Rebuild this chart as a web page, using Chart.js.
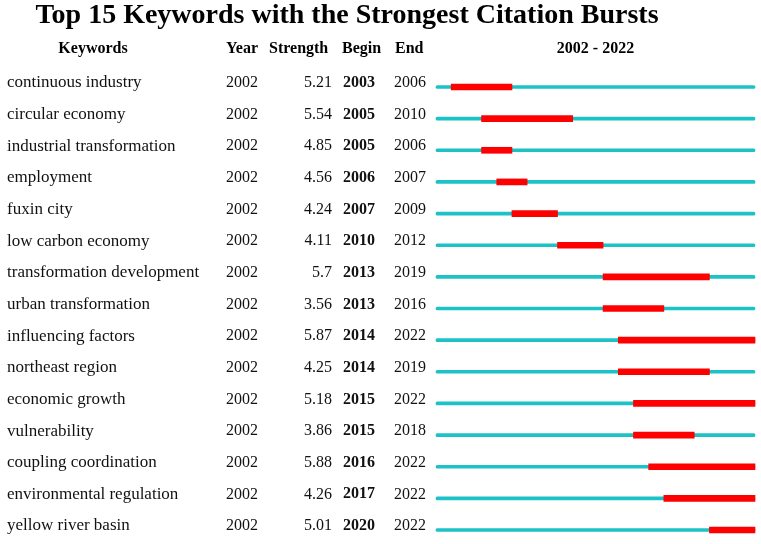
<!DOCTYPE html>
<html>
<head>
<meta charset="utf-8">
<script src="https://cdn.jsdelivr.net/npm/chart.js@4.4.0/dist/chart.umd.min.js"></script>
<style>
  html, body { margin: 0; padding: 0; background: #fff; }
  #wrap { width: 761px; height: 544px; position: relative; }
</style>
</head>
<body>
<div id="wrap"><canvas id="chart"></canvas></div>
<script>
// burst table data
const keywords = [
    'continuous industry', 'circular economy', 'industrial transformation',
    'employment', 'fuxin city', 'low carbon economy',
    'transformation development', 'urban transformation', 'influencing factors',
    'northeast region', 'economic growth', 'vulnerability',
    'coupling coordination', 'environmental regulation', 'yellow river basin'
];
const years     = [2002, 2002, 2002, 2002, 2002, 2002, 2002, 2002, 2002, 2002, 2002, 2002, 2002, 2002, 2002];
const strengths = ['5.21', '5.54', '4.85', '4.56', '4.24', '4.11', '5.7', '3.56', '5.87', '4.25', '5.18', '3.86', '5.88', '4.26', '5.01'];
const begins    = [2003, 2005, 2005, 2006, 2007, 2010, 2013, 2013, 2014, 2014, 2015, 2015, 2016, 2017, 2020];
const ends      = [2006, 2010, 2006, 2007, 2009, 2012, 2019, 2016, 2022, 2019, 2022, 2018, 2022, 2022, 2022];
const spanStart = 2002;
const spanEnd   = 2022;

const serif = '"Liberation Serif", "Times New Roman", serif';

// each year covers [y, y+1] on the axis
const burstData = begins.map((b, i) => [b, ends[i] + 1]);
const baseData  = keywords.map(() => [spanStart, spanEnd + 1]);

const tablePlugin = {
    id: 'burstTable',
    afterDraw(c) {
        const ctx = c.ctx;
        const yScale = c.scales.y;
        const area = c.chartArea;
        ctx.save();
        ctx.fillStyle = '#000';
        ctx.textBaseline = 'middle';

        // title
        ctx.font = 'bold 28px ' + serif;
        ctx.textAlign = 'center';
        ctx.fillText('Top 15 Keywords with the Strongest Citation Bursts', 347, 16);

        // header row
        const hy = 49;
        ctx.font = 'bold 16px ' + serif;
        ctx.fillText('Keywords', 93, hy);
        ctx.textAlign = 'left';
        ctx.fillText('Year', 226, hy);
        ctx.fillText('Strength', 269, hy);
        ctx.fillText('Begin', 342, hy);
        ctx.fillText('End', 395, hy);
        ctx.textAlign = 'center';
        ctx.fillText(spanStart + ' - ' + spanEnd, (area.left + area.right) / 2, hy);

        // rows
        keywords.forEach((k, i) => {
            const y = yScale.getPixelForValue(i) - 4;
            ctx.fillStyle = '#111';
            ctx.textAlign = 'left';
            ctx.font = '17px ' + serif;
            ctx.fillText(k, 7, y);
            ctx.font = '16px ' + serif;
            ctx.fillText(String(years[i]), 226, y);
            ctx.textAlign = 'right';
            ctx.fillText(strengths[i], 332, y);
            ctx.textAlign = 'left';
            ctx.font = 'bold 16px ' + serif;
            ctx.fillText(String(begins[i]), 343, y);
            ctx.font = '16px ' + serif;
            ctx.fillText(String(ends[i]), 394, y);
        });
        ctx.restore();
    }
};

const ctx = document.getElementById('chart').getContext('2d');
const chart = new Chart(ctx, {
    type: 'bar',
    data: {
        labels: keywords,
        datasets: [
            {
                label: 'Burst',
                data: burstData,
                backgroundColor: '#ff0000',
                barThickness: 6,
                borderSkipped: false,
                clip: false
            },
            {
                label: 'Span',
                data: baseData,
                backgroundColor: '#1cc2c6',
                barThickness: 3,
                borderRadius: 1.5,
                borderSkipped: false,
                clip: false
            }
        ]
    },
    options: {
        indexAxis: 'y',
        responsive: true,
        maintainAspectRatio: false,
        animation: false,
        layout: { padding: { left: 436, right: 6, top: 87, bottom: 14 } },
        scales: {
            x: {
                type: 'linear',
                min: spanStart,
                max: spanEnd + 1,
                display: false
            },
            y: {
                offset: false,
                stacked: false,
                display: false
            }
        },
        datasets: { bar: { grouped: false } },
        plugins: {
            legend: { display: false },
            tooltip: { enabled: false }
        }
    },
    plugins: [tablePlugin]
});
</script>
</body>
</html>
